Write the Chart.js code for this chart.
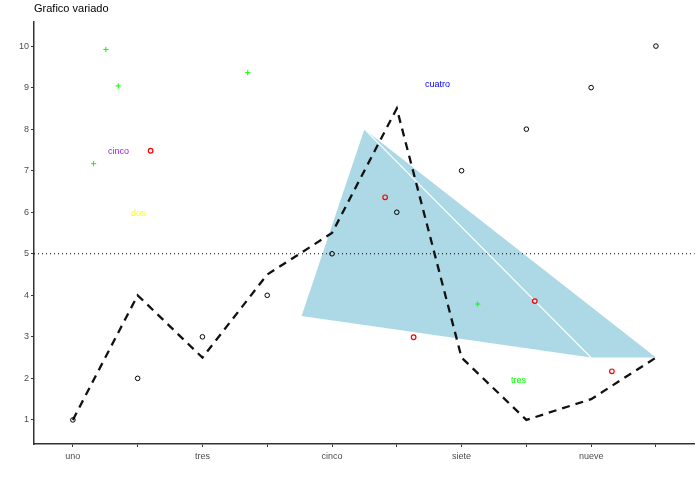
<!DOCTYPE html>
<html lang="es">
<head>
<meta charset="UTF-8">
<title>Grafico variado</title>
<style>
  body { margin: 0; background: #fff; }
  #wrap { width: 700px; height: 480px; }
</style>
<script src="https://cdn.jsdelivr.net/npm/chart.js"></script>
</head>
<body>
<div id="wrap"><canvas id="grafico" width="700" height="480"></canvas></div>
<script>
  // categorias del eje x (solo las impares llevan etiqueta)
  const categorias = ['uno', 'dos', 'tres', 'cuatro', 'cinco', 'seis', 'siete', 'ocho', 'nueve', 'diez'];
  const puntosY = [1, 2, 3, 4, 5, 6, 7, 8, 9, 10];
  const lineaY = [1, 4, 2.5, 4.5, 5.5, 8.5, 2.5, 1, 1.5, 2.5];

  // puntos verdes (+) y rojos (o), algo dispersos
  const verdeX = [1.51, 1.70, 1.32, 3.70, 7.25];
  const verdeY = [9.92, 9.04, 7.17, 9.36, 3.79];
  const rojoX = [2.20, 5.82, 6.26, 8.13, 9.32];
  const rojoY = [7.48, 6.36, 2.99, 3.86, 2.17];

  // poligono azul claro y su diagonal blanca
  const poligonoX = [4.53, 5.5, 10, 9];
  const poligonoY = [3.5, 8, 2.5, 2.5];
  const diagonalX = [5.5, 9];
  const diagonalY = [8, 2.5];

  // etiquetas de texto
  const textos = ['cinco', 'dos', 'cuatro', 'tres'];
  const textoX = [1.705, 2.01, 6.63, 7.88];
  const textoY = [7.47, 5.96, 9.08, 1.96];
  const textoColor = ['#a020f0', '#ffff00', '#0000ff', '#00ff00'];

  const referenciaY = 5;
  const ticksY = [1, 2, 3, 4, 5, 6, 7, 8, 9, 10];

  const par = (xs, ys) => xs.map((x, i) => ({ x: x, y: ys[i] }));
  const fuente = '"Liberation Sans", Arial, sans-serif';

  const poligono = par(poligonoX, poligonoY);
  poligono.push(poligono[0]);

  const textosPlugin = {
    id: 'textos',
    afterDatasetsDraw(chart) {
      const ctx = chart.ctx;
      const sx = chart.scales.x, sy = chart.scales.y;
      ctx.save();
      ctx.font = '9px ' + fuente;
      ctx.textAlign = 'center';
      ctx.textBaseline = 'middle';
      textos.forEach((t, i) => {
        ctx.fillStyle = textoColor[i];
        ctx.fillText(t, sx.getPixelForValue(textoX[i]), sy.getPixelForValue(textoY[i]));
      });
      // titulo
      ctx.font = '11px ' + fuente;
      ctx.textAlign = 'left';
      ctx.fillStyle = '#000';
      ctx.fillText('Grafico variado', chart.chartArea.left, 9);
      ctx.restore();
    }
  };

  new Chart(document.getElementById('grafico'), {
    type: 'scatter',
    data: {
      datasets: [
        {
          data: par(categorias.map((c, i) => i + 1), puntosY),
          pointStyle: 'circle', pointRadius: 2.3, borderWidth: 1,
          borderColor: '#000', backgroundColor: 'rgba(0,0,0,0)'
        },
        {
          data: par(rojoX, rojoY),
          pointStyle: 'circle', pointRadius: 2.3, borderWidth: 1.2,
          borderColor: '#ff0000', backgroundColor: 'rgba(0,0,0,0)'
        },
        {
          data: par(verdeX, verdeY),
          pointStyle: 'cross', pointRadius: 2.6, borderWidth: 1,
          borderColor: '#00ff00', backgroundColor: '#00ff00'
        },
        {
          data: par(categorias.map((c, i) => i + 1), lineaY),
          showLine: true, pointRadius: 0,
          borderColor: '#111', borderWidth: 2.3, borderDash: [8, 6]
        },
        {
          data: par([0.4, 10.6], [referenciaY, referenciaY]),
          showLine: true, pointRadius: 0,
          borderColor: '#000', borderWidth: 1, borderDash: [1, 3]
        },
        {
          data: par(diagonalX, diagonalY),
          showLine: true, pointRadius: 0,
          borderColor: '#ffffff', borderWidth: 1.3
        },
        {
          data: poligono,
          showLine: true, pointRadius: 0, borderWidth: 0,
          borderColor: 'rgba(0,0,0,0)',
          backgroundColor: '#add8e6', fill: 'shape'
        }
      ]
    },
    options: {
      responsive: false,
      animation: false,
      events: [],
      layout: { padding: { top: 22, right: 5, left: 0, bottom: 0 } },
      plugins: { legend: { display: false }, tooltip: { enabled: false }, title: { display: false } },
      scales: {
        x: {
          type: 'linear', min: 0.4, max: 10.6,
          afterBuildTicks: s => { s.ticks = categorias.map((c, i) => ({ value: i + 1 })); },
          afterFit: s => { s.height = 36; },
          ticks: {
            autoSkip: false, maxRotation: 0, padding: 4,
            color: '#4d4d4d', font: { family: fuente, size: 9 },
            callback: (v) => (v % 2 === 1 ? categorias[v - 1] : '')
          },
          grid: { drawOnChartArea: false, tickLength: 3, tickColor: '#333', tickWidth: 1 },
          border: { color: '#333', width: 1.5 }
        },
        y: {
          type: 'linear', min: 0.42, max: 10.58,
          afterBuildTicks: s => { s.ticks = ticksY.map(v => ({ value: v })); },
          afterFit: s => { s.width = 34; },
          ticks: {
            padding: 2, color: '#4d4d4d', font: { family: fuente, size: 9 }
          },
          grid: { drawOnChartArea: false, tickLength: 3, tickColor: '#333', tickWidth: 1 },
          border: { color: '#333', width: 1.5 }
        }
      }
    },
    plugins: [textosPlugin]
  });
</script>
</body>
</html>
